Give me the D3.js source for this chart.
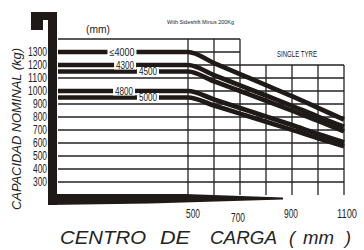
<!DOCTYPE html>
<html><head><meta charset="utf-8">
<script src="https://cdn.jsdelivr.net/npm/d3@7"></script>
<style>html,body{margin:0;padding:0;background:#fff;}svg{display:block;}</style>
</head><body>
<svg id="c" width="364" height="250"></svg>
<script>
// ---- data ----
const loadCenters = [0, 500, 600, 700, 800, 900, 1000, 1100];
const cap4000 = [1300, 1300, 1215, 1130, 1045, 960, 870, 780];
const cap4300 = [1200, 1200, 1122, 1043, 965, 886, 803, 725];
const cap4500 = [1150, 1150, 1075, 1000, 925, 849, 770, 690];
const cap4800 = [1000, 1000, 935, 869, 804, 738, 669, 605];
const cap5000 = [950, 950, 888, 826, 764, 701, 636, 575];
const seriesNames = ["\u22644000", "4300", "4500", "4800", "5000"];
const xTickLabels = [500, 700, 900, 1100];
const yTickLabels = [300, 400, 500, 600, 700, 800, 900, 1000, 1100, 1200, 1300];
const gridYValues = [300, 400, 500, 600, 700, 800, 900, 1000, 1100, 1200, 1300, 1400];
const gridXValues = [500, 600, 700, 800, 900, 1000, 1100];

// ---- layout ----
const svg = d3.select("#c");
const x = d3.scaleLinear().domain([0, 1100]).range([58, 344]);
const y = d3.scaleLinear().domain([200, 1400]).range([195, 39]);
const ink = "#1f1a17";
const font = "'Liberation Sans', Arial, sans-serif";

// grid
const g = svg.append("g").attr("stroke", "#222").attr("stroke-width", 1.3);
g.selectAll("line.h").data(gridYValues).join("line")
  .attr("x1", x(0)).attr("x2", d => x(d >= 1300 ? 700 : 1100))
  .attr("y1", d => y(d)).attr("y2", d => y(d));
g.selectAll("line.v").data(gridXValues).join("line")
  .attr("x1", d => x(d)).attr("x2", d => x(d))
  .attr("y1", y(200)).attr("y2", d => y(d <= 700 ? 1400 : 1200));

// frame
svg.append("path").attr("fill", ink)
  .attr("d", "M31,12 L57,12 L57,205 L48,205 L48,20 L43,20 L43,30 L31,30 Z");
svg.append("path").attr("fill", ink)
  .attr("d", "M48,194 L185,194 L283,197.5 L283,199.5 L150,203.5 L48,205 Z");

// curves
const series = [cap4000, cap4300, cap4500, cap4800, cap5000];
const line = d3.line().x((d, i) => x(loadCenters[i])).y(d => y(d)).curve(d3.curveMonotoneX);
svg.append("g").selectAll("path").data(series).join("path")
  .attr("d", d => line(d)).attr("fill", "none").attr("stroke", ink)
  .attr("stroke-width", 4.7).attr("stroke-linejoin", "round").attr("stroke-linecap", "butt");

// series labels with white boxes
const labelX = [246, 258, 346, 254, 346];
const labelLen = [25, 18, 18, 18, 18];
const lab = svg.append("g").selectAll("g").data(seriesNames).join("g")
  .attr("transform", (d, i) => `translate(${x(labelX[i])},${y(series[i][1])})`);
lab.append("rect").attr("x", (d, i) => -labelLen[i] / 2 - 2).attr("y", -4.5)
  .attr("width", (d, i) => labelLen[i] + 4).attr("height", 9).attr("fill", "#fff");
lab.append("text").text(d => d).attr("text-anchor", "middle").attr("y", 3.8)
  .attr("font-family", font).attr("font-size", 10.5).attr("fill", "#222")
  .attr("textLength", (d, i) => labelLen[i]).attr("lengthAdjust", "spacingAndGlyphs");

// y tick labels
svg.append("g").selectAll("text").data(yTickLabels).join("text")
  .text(d => d).attr("x", 47).attr("y", d => y(d) + 4.3).attr("text-anchor", "end")
  .attr("font-family", font).attr("font-size", 12).attr("fill", "#222")
  .attr("textLength", d => String(d).length === 4 ? 19 : 14).attr("lengthAdjust", "spacingAndGlyphs");

// x tick labels
svg.append("g").selectAll("text").data(xTickLabels).join("text")
  .text(d => d).attr("x", d => x(d) + (d === 500 ? 5 : d === 700 ? -2 : d === 1100 ? 3 : -1))
  .attr("y", d => d === 700 ? 222 : 218).attr("text-anchor", "middle")
  .attr("font-family", font).attr("font-size", 13).attr("fill", "#222")
  .attr("textLength", d => String(d).length === 4 ? 20 : 14).attr("lengthAdjust", "spacingAndGlyphs");

// x title
const xt = [["CENTRO", 60, 86], ["DE", 160, 30], ["CARGA", 210, 67], ["(", 289, 6], ["mm", 303, 31], [")", 345, 6]];
svg.append("g").selectAll("text").data(xt).join("text")
  .text(d => d[0]).attr("x", d => d[1]).attr("y", 244)
  .attr("font-family", font).attr("font-style", "italic").attr("font-size", 18).attr("fill", "#222")
  .attr("textLength", d => d[2]).attr("lengthAdjust", "spacingAndGlyphs");

// y title
svg.append("text").text("CAPACIDAD  NOMINAL (kg)")
  .attr("transform", "translate(21,210) rotate(-90)")
  .attr("font-family", font).attr("font-style", "italic").attr("font-size", 12.5).attr("fill", "#222")
  .attr("textLength", 162).attr("lengthAdjust", "spacingAndGlyphs");

// other texts
svg.append("text").text("(mm)").attr("x", 86).attr("y", 33)
  .attr("font-family", font).attr("font-size", 11.5).attr("fill", "#222")
  .attr("textLength", 24).attr("lengthAdjust", "spacingAndGlyphs");
svg.append("text").text("With Sideshift Minus 200Kg").attr("x", 167).attr("y", 24)
  .attr("font-family", font).attr("font-size", 5.5).attr("fill", "#222")
  .attr("textLength", 67).attr("lengthAdjust", "spacingAndGlyphs");
svg.append("text").text("SINGLE TYRE").attr("x", 277).attr("y", 57)
  .attr("font-family", font).attr("font-size", 8.5).attr("fill", "#222")
  .attr("textLength", 40).attr("lengthAdjust", "spacingAndGlyphs");
</script>
</body></html>
